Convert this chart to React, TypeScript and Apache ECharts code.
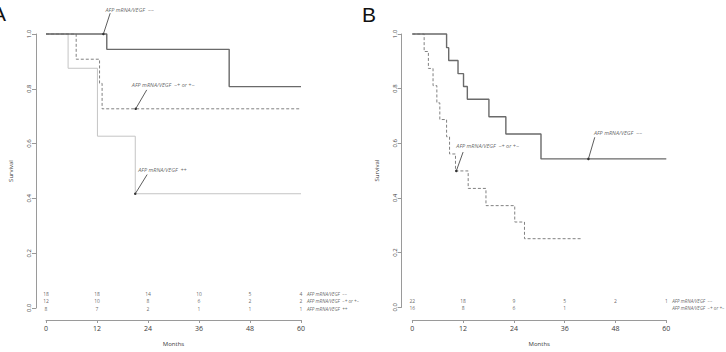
import React, { useEffect, useRef } from "react";
import * as echarts from "echarts";

// Follow-up time axis (months)
const MONTH_TICKS = [0, 12, 24, 36, 48, 60];

// Group names
const GROUP_NEG = "AFP mRNA/VEGF  −−";
const GROUP_MIX = "AFP mRNA/VEGF  −+ or +−";
const GROUP_POS = "AFP mRNA/VEGF  ++";

// Panel A — Kaplan–Meier steps [month, survival]
const aNeg = [[0, 1], [14.3, 0.944], [43.1, 0.808], [60, 0.808]];
const aMix = [[0, 1], [7.1, 0.908], [12.6, 0.82], [13.2, 0.727], [60, 0.727]];
const aPos = [[0, 1], [5.2, 0.875], [12.1, 0.627], [21.0, 0.417], [60, 0.417]];

// Panel B — Kaplan–Meier steps [month, survival]
const bNeg = [
  [0, 1], [8.1, 0.95], [8.6, 0.903], [10.8, 0.855], [12.1, 0.808], [13.0, 0.761],
  [18.1, 0.697], [22.1, 0.634], [30.4, 0.543], [60, 0.543],
];
const bMix = [
  [0, 1], [2.8, 0.936], [3.8, 0.874], [4.9, 0.811], [5.8, 0.748], [6.5, 0.687],
  [8.1, 0.624], [8.8, 0.561], [10.2, 0.499], [13.2, 0.435], [17.4, 0.372],
  [24.2, 0.312], [26.5, 0.251], [40, 0.251],
];

// Numbers at risk at each month tick
const aRiskNeg = [18, 18, 14, 10, 5, 4];
const aRiskMix = [12, 10, 8, 6, 2, 2];
const aRiskPos = [8, 7, 2, 1, 1, 1];
const bRiskNeg = [22, 18, 9, 5, 2, 1];
const bRiskMix = [16, 8, 6, 1];

const FONT = "Open Sans, DejaVu Sans, sans-serif";
const C_NEG = "#6a6a6a";
const C_MIX = "#808080";
const C_POS = "#c4c4c4";
const C_AXIS = "#9a9a9a";
const C_TEXT = "#3a3a3a";

// vertical placement of the at-risk rows, in survival units
const ROW_Y = [0.051, 0.024, -0.003];
const LABEL_X = 61.4;

type Pt = number[];

function kmSeries(idx: number, data: Pt[], color: string, width: number, dashed: boolean) {
  return {
    type: "line",
    xAxisIndex: idx,
    yAxisIndex: idx,
    step: "end",
    data,
    showSymbol: false,
    symbol: "none",
    clip: false,
    lineStyle: { color, width, type: dashed ? [3, 2] : "solid" },
    silent: true,
    z: 3,
  };
}

function riskRow(idx: number, counts: number[], row: number, group: string) {
  const data: any[] = counts.map((n, i) => ({ value: [MONTH_TICKS[i], ROW_Y[row]], name: String(n) }));
  return [
    {
      type: "scatter",
      xAxisIndex: idx,
      yAxisIndex: idx,
      symbolSize: 0,
      clip: false,
      silent: true,
      data,
      label: {
        show: true,
        position: "inside",
        formatter: (p: any) => p.name,
        fontSize: 5,
        color: C_TEXT,
        fontFamily: FONT,
      },
    },
    {
      type: "scatter",
      xAxisIndex: idx,
      yAxisIndex: idx,
      symbolSize: 0,
      clip: false,
      silent: true,
      data: [{ value: [LABEL_X, ROW_Y[row]], name: group }],
      label: {
        show: true,
        position: "right",
        distance: 0,
        formatter: (p: any) => p.name,
        fontSize: 4.6,
        fontStyle: "italic",
        color: C_TEXT,
        fontFamily: FONT,
      },
    },
  ];
}

function callout(idx: number, text: string, textAt: Pt, from: Pt, to: Pt) {
  return [
    {
      type: "line",
      xAxisIndex: idx,
      yAxisIndex: idx,
      clip: false,
      silent: true,
      data: [
        { value: from, symbol: "none" },
        { value: to, symbol: "circle", symbolSize: 2.5 },
      ],
      lineStyle: { color: "#333", width: 0.8 },
      itemStyle: { color: "#333" },
      z: 4,
    },
    {
      type: "scatter",
      xAxisIndex: idx,
      yAxisIndex: idx,
      symbolSize: 0,
      clip: false,
      silent: true,
      data: [{ value: textAt, name: text }],
      label: {
        show: true,
        position: "right",
        distance: 0,
        formatter: (p: any) => p.name,
        fontSize: 5.5,
        fontStyle: "italic",
        color: C_TEXT,
        fontFamily: FONT,
      },
    },
  ];
}

function xAxis(idx: number, offset: number) {
  return {
    type: "value",
    gridIndex: idx,
    min: 0,
    max: 60,
    interval: 12,
    offset,
    splitLine: { show: false },
    axisLine: { show: true, onZero: false, lineStyle: { color: C_AXIS, width: 1 } },
    axisTick: { show: true, length: 3, lineStyle: { color: C_AXIS } },
    axisLabel: { fontSize: 7, color: C_TEXT, margin: 5, fontFamily: FONT },
    name: "Months",
    nameLocation: "middle",
    nameGap: 21,
    nameTextStyle: { fontSize: 6, color: C_TEXT, fontFamily: FONT },
  };
}

function yAxis(idx: number, offset: number) {
  return {
    type: "value",
    gridIndex: idx,
    min: 0,
    max: 1,
    interval: 0.2,
    offset,
    splitLine: { show: false },
    axisLine: { show: true, onZero: false, lineStyle: { color: C_AXIS, width: 1 } },
    axisTick: { show: true, length: 4, lineStyle: { color: C_AXIS } },
    axisLabel: {
      rotate: 90,
      fontSize: 6,
      color: C_TEXT,
      margin: 4,
      fontFamily: FONT,
      formatter: (v: number) => v.toFixed(1),
    },
    name: "Survival",
    nameLocation: "middle",
    nameGap: 22,
    nameTextStyle: { fontSize: 6, color: C_TEXT, fontFamily: FONT },
  };
}

export default function App() {
  const ref = useRef<HTMLDivElement>(null);

  useEffect(() => {
    if (!ref.current) return;
    const chart = echarts.init(ref.current, undefined, { renderer: "svg" });

    const series: any[] = [
      kmSeries(0, aPos, C_POS, 1, false),
      kmSeries(0, aMix, C_MIX, 1, true),
      kmSeries(0, aNeg, C_NEG, 1.4, false),
      kmSeries(1, bMix, C_MIX, 1, true),
      kmSeries(1, bNeg, C_NEG, 1.4, false),
      ...riskRow(0, aRiskNeg, 0, GROUP_NEG),
      ...riskRow(0, aRiskMix, 1, GROUP_MIX),
      ...riskRow(0, aRiskPos, 2, GROUP_POS),
      ...riskRow(1, bRiskNeg, 1, GROUP_NEG),
      ...riskRow(1, bRiskMix, 2, GROUP_MIX),
      ...callout(0, GROUP_NEG, [14.0, 1.087], [15.1, 1.076], [13.5, 1.0]),
      ...callout(0, GROUP_MIX, [20.2, 0.815], [23.7, 0.796], [21.1, 0.727]),
      ...callout(0, GROUP_POS, [21.7, 0.502], [23.8, 0.487], [21.0, 0.417]),
      ...callout(1, GROUP_MIX, [10.4, 0.589], [12.0, 0.568], [10.4, 0.499]),
      ...callout(1, GROUP_NEG, [42.9, 0.636], [43.1, 0.622], [41.6, 0.543]),
    ];

    chart.setOption({
      animation: false,
      backgroundColor: "#ffffff",
      grid: [
        { left: 46, top: 34, width: 255, height: 275 },
        { left: 412.3, top: 34, width: 254, height: 275 },
      ],
      xAxis: [xAxis(0, 12), xAxis(1, 12.7)],
      yAxis: [yAxis(0, 10), yAxis(1, 10.6)],
      series,
      graphic: [
        {
          type: "text",
          left: -8,
          top: 3,
          style: { text: "A", fontSize: 21, fill: "#111", fontFamily: "Liberation Sans, Arial, sans-serif" },
        },
        {
          type: "text",
          left: 362,
          top: 4,
          style: { text: "B", fontSize: 21, fill: "#111", fontFamily: "Liberation Sans, Arial, sans-serif" },
        },
      ],
    });

    return () => chart.dispose();
  }, []);

  return (
    <div
      ref={ref}
      style={{ position: "fixed", left: 0, top: 0, width: 726, height: 352, background: "#fff" }}
    />
  );
}
